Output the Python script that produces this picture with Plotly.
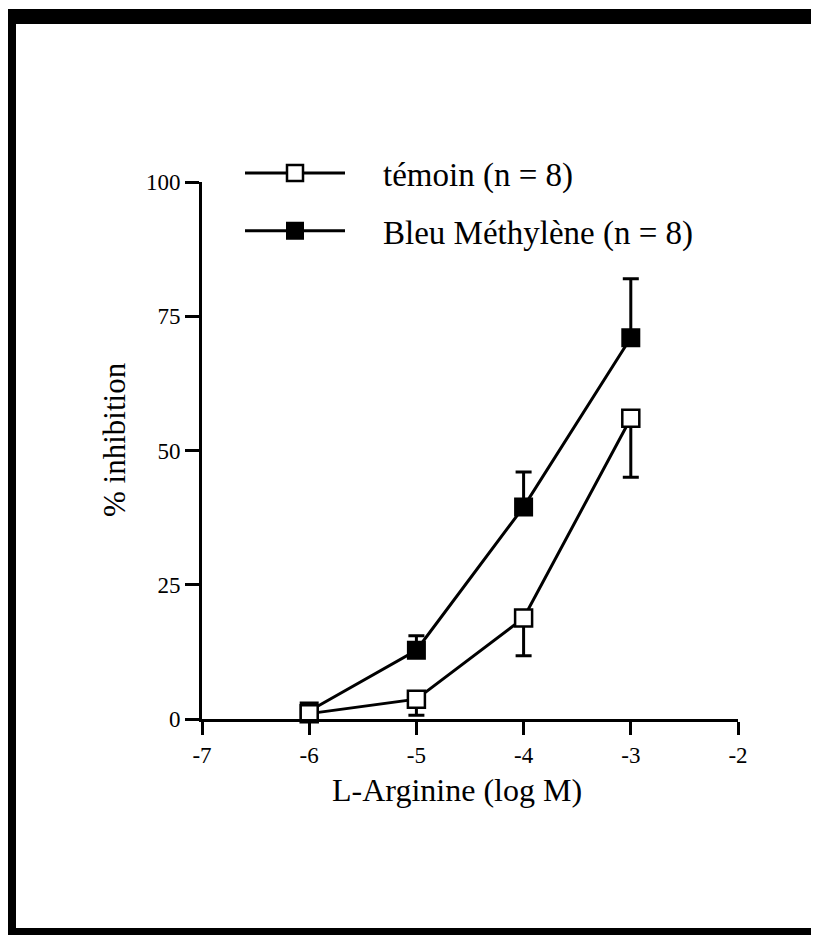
import plotly.graph_objects as go

# ---- data ----
log_conc = [-6, -5, -4, -3]
temoin = [1.0, 3.7, 18.8, 56.0]
temoin_err_minus = [0.0, 3.0, 7.0, 11.0]
bleu = [1.5, 12.8, 39.5, 71.0]
bleu_err_plus = [0.0, 2.7, 6.5, 11.0]

series_names = ["témoin (n = 8)", "Bleu Méthylène (n = 8)"]
x_ticks = [-7, -6, -5, -4, -3, -2]
y_ticks = [0, 25, 50, 75, 100]
x_title = "L-Arginine (log M)"
y_title = "% inhibition"

OFF = 8  # page body margin
W, H = 819 - 2 * OFF, 935 - OFF
L, R, T, B = 202 - OFF, 738 - OFF, 182 - OFF, 719 - OFF  # plot area in figure px


def px(x):
    return (x - OFF - L) / (R - L)


def py(y):
    return (B - (y - OFF)) / (B - T)


FONT = "Liberation Serif, Times New Roman, serif"
PAD = "\u00a0" * 4

fig = go.Figure()

fig.add_trace(go.Scatter(
    x=log_conc, y=bleu, name=PAD + series_names[1], mode="lines+markers",
    legendgroup="b", legendrank=2,
    line=dict(color="black", width=3),
    marker=dict(symbol="square", size=17, color="black", line=dict(color="black", width=2)),
    error_y=dict(type="data", symmetric=False, array=bleu_err_plus,
                 arrayminus=[0] * 4, color="black", thickness=3, width=8),
    cliponaxis=False,
))
fig.add_trace(go.Scatter(
    x=log_conc, y=temoin, name=PAD + series_names[0], mode="lines+markers",
    legendgroup="a", legendrank=1,
    line=dict(color="black", width=3),
    marker=dict(symbol="square", size=17, color="white", line=dict(color="black", width=2.5)),
    error_y=dict(type="data", symmetric=False, array=[0] * 4,
                 arrayminus=temoin_err_minus, color="black", thickness=3, width=8),
    cliponaxis=False,
))

shapes = []
# black frame bands (top, left, bottom) in page px
shapes.append(dict(type="rect", xref="paper", yref="paper", x0=px(0), x1=px(830),
                   y0=py(24), y1=py(9), fillcolor="black", line=dict(width=0), layer="above"))
shapes.append(dict(type="rect", xref="paper", yref="paper", x0=px(7), x1=px(16),
                   y0=py(940), y1=py(9), fillcolor="black", line=dict(width=0), layer="above"))
shapes.append(dict(type="rect", xref="paper", yref="paper", x0=px(7), x1=px(830),
                   y0=py(940), y1=py(928), fillcolor="black", line=dict(width=0), layer="above"))

annotations = [
    dict(text=y_title, xref="paper", yref="paper", x=px(114), y=py(440),
         xanchor="center", yanchor="middle", textangle=-90, showarrow=False,
         font=dict(size=31, family=FONT, color="black")),
    dict(text=x_title, xref="paper", yref="paper", x=px(457), y=py(790),
         xanchor="center", yanchor="middle", showarrow=False,
         font=dict(size=32, family=FONT, color="black")),
]

fig.update_layout(
    width=W, height=H,
    margin=dict(l=L, r=W - R, t=T, b=H - B, pad=0),
    paper_bgcolor="white", plot_bgcolor="white",
    font=dict(family=FONT, color="black"),
    showlegend=True,
    legend=dict(
        x=px(240), y=py(145), xanchor="left", yanchor="top",
        traceorder="grouped", itemwidth=100,
        font=dict(size=33, family=FONT, color="black"),
        bgcolor="rgba(0,0,0,0)", tracegroupgap=12, itemsizing="trace",
    ),
    xaxis=dict(
        range=[-7, -2], tickvals=x_ticks, ticktext=[str(v) for v in x_ticks],
        showgrid=False, zeroline=False, showline=True, linecolor="black", linewidth=3,
        ticks="outside", ticklen=13, tickwidth=3, tickcolor="black",
        tickfont=dict(size=23, family=FONT, color="black"),
    ),
    yaxis=dict(
        range=[0, 100], tickvals=y_ticks, ticktext=[str(v) for v in y_ticks],
        showgrid=False, zeroline=False, showline=True, linecolor="black", linewidth=3,
        ticks="outside", ticklen=14, tickwidth=3, tickcolor="black",
        tickfont=dict(size=23, family=FONT, color="black"),
    ),
    shapes=shapes,
    annotations=annotations,
)

fig.write_html("out.html")
